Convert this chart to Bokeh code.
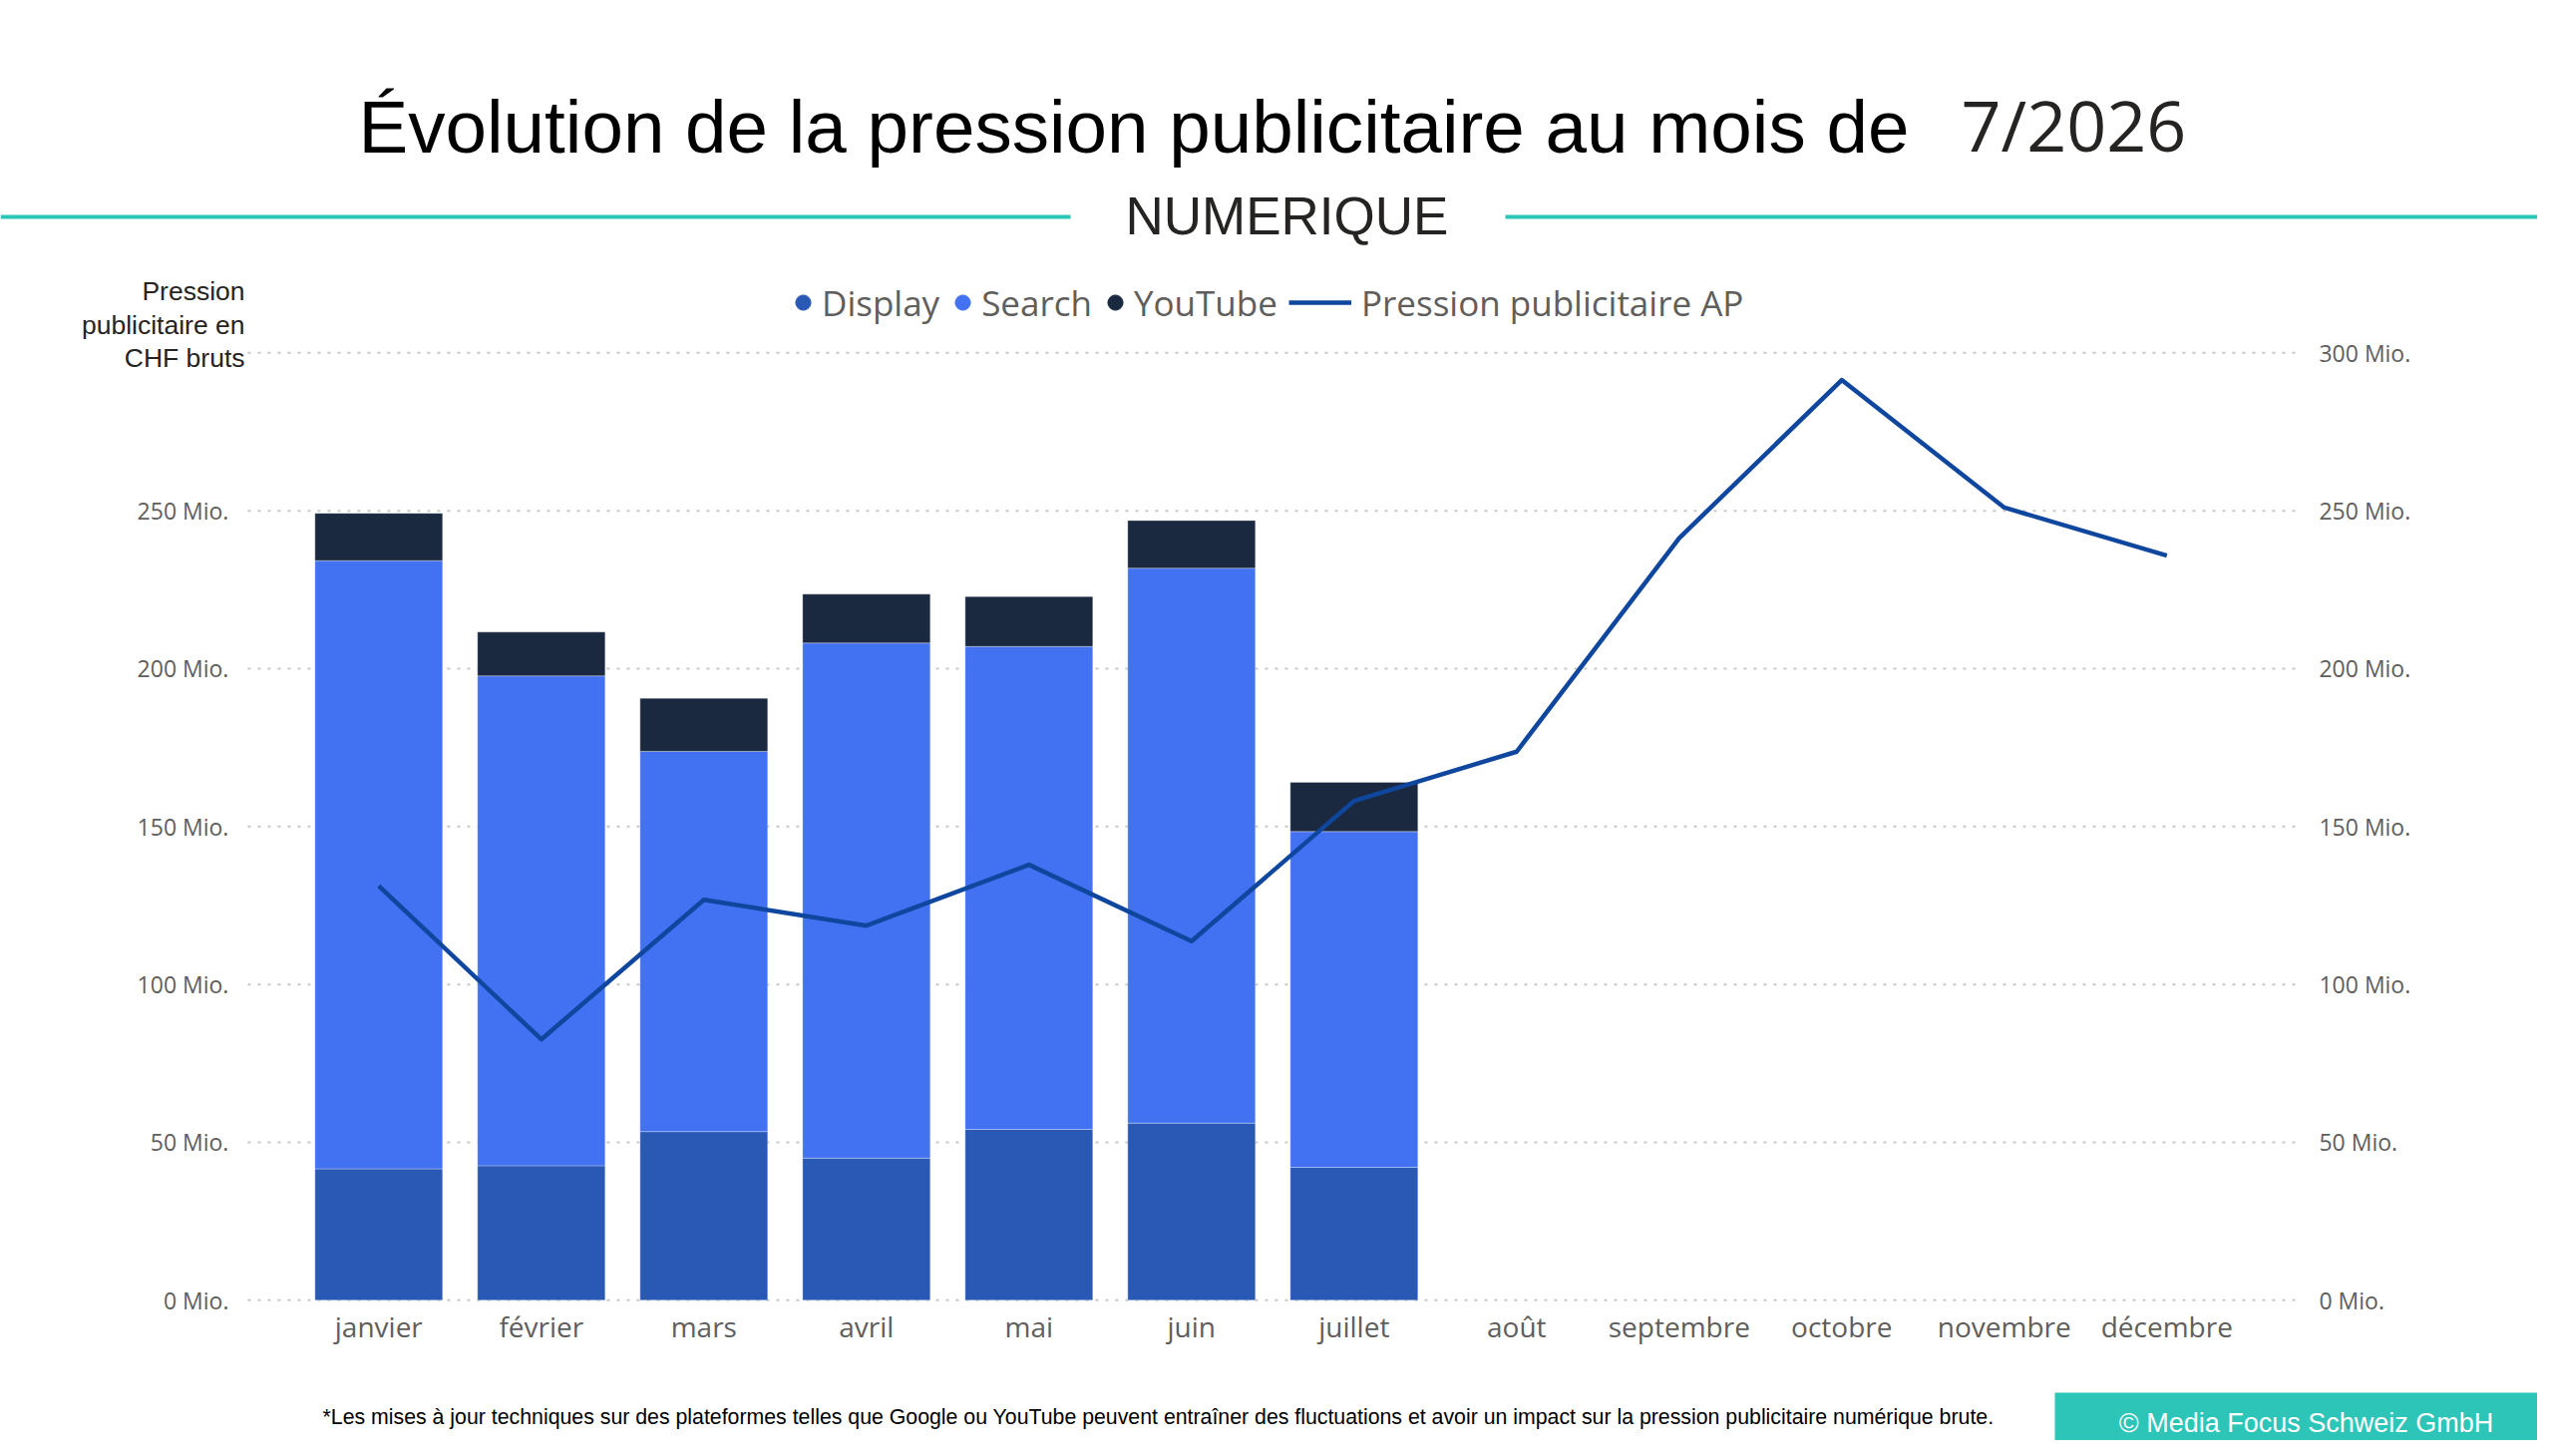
from bokeh.plotting import figure
from bokeh.models import (Range1d, FixedTicker, LinearAxis, Label, Legend, LegendItem,
                          Arrow, BoxAnnotation)
from bokeh.embed import file_html
from bokeh.resources import INLINE

# ---------------- data ----------------
months = ["janvier", "février", "mars", "avril", "mai", "juin", "juillet",
          "août", "septembre", "octobre", "novembre", "décembre"]
display_vals = [41.6, 42.6, 53.4, 45.0, 54.1, 56.1, 42.1]
search_vals = [192.6, 155.1, 120.4, 163.1, 152.9, 175.7, 106.3]
youtube_vals = [15.0, 13.9, 16.8, 15.5, 15.8, 15.1, 15.6]
ap_vals = [131.2, 82.6, 126.8, 118.6, 137.9, 113.7, 158.1, 173.7, 241.3, 291.4, 251.0, 235.8]
series_names = ["Display", "Search", "YouTube"]
line_name = "Pression publicitaire AP"
y_ticks = [0, 50, 100, 150, 200, 250, 300]
y_tick_labels = ["0 Mio.", "50 Mio.", "100 Mio.", "150 Mio.", "200 Mio.", "250 Mio.", "300 Mio."]

title_text = "Évolution de la pression publicitaire au mois de"
period_text = "7/2026"
subtitle_text = "NUMERIQUE"
ytitle_lines = ["Pression", "publicitaire en", "CHF bruts"]
footnote_text = ("*Les mises à jour techniques sur des plateformes telles que Google ou YouTube "
                 "peuvent entraîner des fluctuations et avoir un impact sur la pression publicitaire numérique brute.")
copyright_text = "© Media Focus Schweiz GmbH"

# ---------------- style ----------------
C_DISPLAY = "#2A59B5"
C_SEARCH = "#4271F2"
C_YOUTUBE = "#1A2940"
C_LINE = "#0F479F"
C_TEAL = "#2CC5B8"
C_TXT = "#252423"
C_GRAY = "#605E5C"

W, H = 2544, 1444
PX_CAT = 163.0          # px per month
X0_PX = 379.3           # px of first month centre
Y0_PX = 1303.3          # px of 0 Mio.
PX_MIO = 3.1667         # px per Mio.
X_LEFT, X_RIGHT = -0.806, 11.82   # plot-area extent in month units

p = figure(width=W, height=H, output_backend="svg", toolbar_location=None,
           x_axis_location=None, y_axis_location=None,
           x_range=Range1d(-X0_PX / PX_CAT, (W - X0_PX) / PX_CAT),
           y_range=Range1d(-(H - Y0_PX) / PX_MIO, Y0_PX / PX_MIO),
           min_border=0)
p.outline_line_color = None
p.background_fill_color = "white"
p.border_fill_color = "white"
p.xgrid.visible = False
p.ygrid.visible = False

# dotted gridlines from tick values
n = len(y_ticks)
p.segment(x0=[X_LEFT] * n, x1=[X_RIGHT] * n, y0=y_ticks, y1=y_ticks,
          line_color="#C8C8C8", line_dash="3 7", line_width=2)

xs = list(range(len(display_vals)))
src = dict(x=xs, Display=display_vals, Search=search_vals, YouTube=youtube_vals)
p.vbar_stack(series_names, x="x", width=0.785, source=src,
             color=[C_DISPLAY, C_SEARCH, C_YOUTUBE],
             line_color="white", line_alpha=0.3, line_width=1)
line_r = p.line(list(range(len(ap_vals))), ap_vals, line_color=C_LINE, line_width=4.5,
                line_join="round")

# axes, drawn at fixed positions
xax = LinearAxis(fixed_location=0, ticker=FixedTicker(ticks=list(range(len(months)))),
                 major_label_overrides={i: m for i, m in enumerate(months)})
yax = LinearAxis(fixed_location=X_LEFT, ticker=FixedTicker(ticks=y_ticks[:-1]),
                 major_label_overrides=dict(zip(y_ticks, y_tick_labels)))
rax = LinearAxis(fixed_location=X_RIGHT, ticker=FixedTicker(ticks=y_ticks),
                 major_label_overrides=dict(zip(y_ticks, y_tick_labels)))
p.add_layout(xax, "below")
p.add_layout(yax, "left")
p.add_layout(rax, "right")
for ax in (xax, yax, rax):
    ax.axis_line_color = None
    ax.major_tick_line_color = None
    ax.minor_tick_line_color = None
    ax.major_tick_out = 0
    ax.major_tick_in = 0
    ax.major_label_text_font = "Open Sans"
    ax.major_label_text_color = C_GRAY
for ax in (yax, rax):
    ax.major_label_text_font_size = "23px"
    ax.major_label_standoff = 19
xax.major_label_text_font_size = "28px"
xax.major_label_standoff = 7

def sx(cx):
    return cx
def sy(cy):
    return H - cy

# legend (round markers for the bar series; NaN point = nothing drawn in the plot)
nan = float("nan")
dots = [p.scatter(x=[nan], y=[nan], size=16, color=c) for c in (C_DISPLAY, C_SEARCH, C_YOUTUBE)]
leg_common = dict(orientation="horizontal", padding=0, margin=0, border_line_alpha=0,
                  background_fill_alpha=0, label_text_font="Open Sans",
                  label_text_font_size="35px", label_text_color=C_GRAY, label_height=48)
leg1 = Legend(items=[LegendItem(label=nm, renderers=[d]) for nm, d in zip(series_names, dots)],
              location=(sx(786), sy(327)), glyph_width=38, glyph_height=48,
              label_standoff=0, spacing=4, **leg_common)
leg2 = Legend(items=[LegendItem(label=line_name, renderers=[line_r])],
              location=(sx(1292), sy(327)), glyph_width=63, glyph_height=48,
              label_standoff=10, **leg_common)
p.add_layout(leg1, "center")
p.add_layout(leg2, "center")

def lab(text, cx, base_y, size, font="Liberation Sans", color=C_TXT, align="left", k=0.33):
    # base_y is the wanted baseline; k corrects the renderer's anchor offset (em units)
    p.add_layout(Label(x=sx(cx), y=sy(base_y - k * size), x_units="screen", y_units="screen",
                       text=text, text_font=font, text_font_size=f"{size}px", text_color=color,
                       text_align=align, text_baseline="alphabetic"))

lab(title_text, 359, 151, 74.6, color="#000000")
lab(period_text, 1966, 155, 70, font="Open Sans", k=0.44)
lab(subtitle_text, 1290, 233, 53, align="center")
for t, by in zip(ytitle_lines, (300, 334, 367.5)):
    lab(t, 245, by, 26.5, align="right")
lab(footnote_text, 1161, 1428, 21.3, align="center", color="#000000")

# teal header rules
for x0, x1 in ((0, 1073), (1509, 2560)):
    p.add_layout(Arrow(x_start=sx(x0), y_start=sy(217), x_end=sx(x1), y_end=sy(217),
                       start_units="screen", end_units="screen", start=None, end=None,
                       line_color=C_TEAL, line_width=4))

# copyright box
p.add_layout(BoxAnnotation(left=sx(2060), right=sx(2560), top=sy(1396), bottom=sy(1450),
                           left_units="screen", right_units="screen",
                           top_units="screen", bottom_units="screen",
                           fill_color=C_TEAL, fill_alpha=1, line_color=None))
lab(copyright_text, 2312, 1435, 27, color="white", align="center")

open("out.html", "w").write(file_html(p, INLINE))
